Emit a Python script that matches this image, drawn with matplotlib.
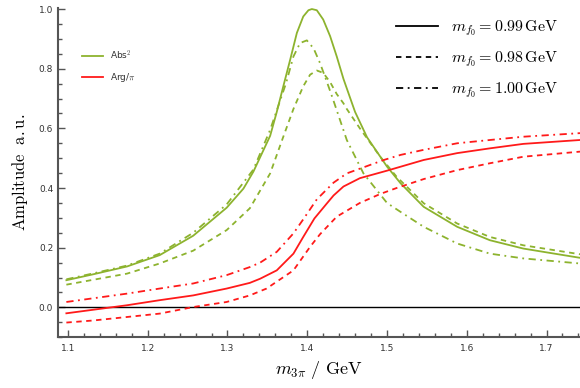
import numpy as np
import matplotlib.pyplot as plt
from matplotlib.lines import Line2D
from matplotlib.ticker import MultipleLocator

plt.rcParams['mathtext.fontset'] = 'cm'

green = '#8db32e'
red = '#ff1a1a'
grey = '#555555'

# |amplitude|^2, m_f0 = 0.99 GeV
m_abs_a = [1.098, 1.132, 1.174, 1.215, 1.257, 1.299, 1.320, 1.3325, 1.3535, 1.3618,
           1.370, 1.3786, 1.387, 1.395, 1.4015, 1.4058, 1.412, 1.420, 1.4287, 1.437,
           1.4454, 1.4538, 1.460, 1.475, 1.500, 1.517, 1.546, 1.588, 1.629, 1.671, 1.742]
abs_a = [0.091, 0.111, 0.137, 0.175, 0.240, 0.334, 0.398, 0.455, 0.575, 0.655,
         0.741, 0.830, 0.920, 0.975, 0.996, 1.000, 0.996, 0.965, 0.909, 0.841,
         0.766, 0.702, 0.655, 0.570, 0.472, 0.416, 0.337, 0.270, 0.225, 0.197, 0.166]

# m_f0 = 0.98 GeV
m_abs_b = [1.098, 1.174, 1.215, 1.257, 1.299, 1.328, 1.3535, 1.370, 1.3827, 1.395,
           1.4036, 1.412, 1.420, 1.4287, 1.437, 1.4454, 1.4496, 1.466, 1.4915, 1.512,
           1.546, 1.588, 1.629, 1.671, 1.742]
abs_b = [0.076, 0.113, 0.147, 0.190, 0.259, 0.332, 0.449, 0.572, 0.665, 0.741,
         0.780, 0.794, 0.786, 0.755, 0.715, 0.684, 0.665, 0.600, 0.505, 0.438,
         0.349, 0.281, 0.236, 0.208, 0.178]

# m_f0 = 1.00 GeV
m_abs_c = [1.098, 1.132, 1.174, 1.215, 1.257, 1.299, 1.3325, 1.3535, 1.3735, 1.3827,
           1.391, 1.3995, 1.408, 1.416, 1.4245, 1.432, 1.4496, 1.4705, 1.500, 1.517,
           1.546, 1.588, 1.629, 1.671, 1.742]
abs_c = [0.094, 0.114, 0.140, 0.180, 0.250, 0.345, 0.462, 0.595, 0.752, 0.841,
         0.886, 0.895, 0.868, 0.819, 0.757, 0.700, 0.561, 0.449, 0.350, 0.320,
         0.270, 0.214, 0.180, 0.164, 0.147]

# phase / pi
m_arg_a = [1.098, 1.174, 1.215, 1.257, 1.299, 1.328, 1.341, 1.3618, 1.3827, 1.395,
           1.409, 1.4245, 1.433, 1.4454, 1.466, 1.4998, 1.546, 1.588, 1.629, 1.671,
           1.742]
arg_a = [-0.020, 0.007, 0.024, 0.040, 0.063, 0.082, 0.096, 0.124, 0.180, 0.236,
         0.298, 0.348, 0.375, 0.405, 0.433, 0.458, 0.494, 0.517, 0.533, 0.548,
         0.561]

m_arg_b = [1.098, 1.132, 1.215, 1.257, 1.299, 1.328, 1.349, 1.3827, 1.4036, 1.416,
           1.437, 1.466, 1.4915, 1.512, 1.546, 1.588, 1.629, 1.671, 1.742]
arg_b = [-0.051, -0.044, -0.021, 0.001, 0.018, 0.040, 0.063, 0.124, 0.203, 0.245,
         0.304, 0.350, 0.380, 0.400, 0.430, 0.460, 0.483, 0.505, 0.522]

m_arg_c = [1.098, 1.174, 1.215, 1.257, 1.299, 1.328, 1.341, 1.3618, 1.3827, 1.395,
           1.412, 1.433, 1.4496, 1.496, 1.517, 1.546, 1.588, 1.629, 1.671, 1.742]
arg_c = [0.018, 0.046, 0.063, 0.080, 0.108, 0.135, 0.150, 0.186, 0.248, 0.295,
         0.362, 0.418, 0.449, 0.494, 0.511, 0.528, 0.550, 0.561, 0.572, 0.584]

legend_masses = ['0.99', '0.98', '1.00']

solid = '-'
dashed = (0, (3, 2.5))
dashdot = (0, (4, 2.5, 1, 2.5))

fig = plt.figure(figsize=(5.8, 3.88), dpi=100)
ax = fig.add_axes([0.1, 0.131, 0.9, 0.848])

ax.axhline(0, color='black', lw=1.0)

ax.plot(m_abs_a, abs_a, color=green, lw=1.3, ls=solid)
ax.plot(m_abs_b, abs_b, color=green, lw=1.3, ls=dashed)
ax.plot(m_abs_c, abs_c, color=green, lw=1.3, ls=dashdot)
ax.plot(m_arg_a, arg_a, color=red, lw=1.3, ls=solid)
ax.plot(m_arg_b, arg_b, color=red, lw=1.3, ls=dashed)
ax.plot(m_arg_c, arg_c, color=red, lw=1.3, ls=dashdot)

ax.set_xlim(1.0875, 1.742)
ax.set_ylim(-0.1, 1.003)

ax.xaxis.set_major_locator(MultipleLocator(0.1))
ax.xaxis.set_minor_locator(MultipleLocator(0.02))
ax.yaxis.set_major_locator(MultipleLocator(0.2))
ax.yaxis.set_minor_locator(MultipleLocator(0.05))
ax.tick_params(which='both', direction='in', color=grey, labelsize=6.5,
               labelcolor='#333333', width=1.0)
ax.tick_params(which='major', length=5)
ax.tick_params(which='minor', length=3)
ax.tick_params(axis='x', pad=5)
for s in ['top', 'right']:
    ax.spines[s].set_visible(False)
for s in ['left', 'bottom']:
    ax.spines[s].set_color(grey)
    ax.spines[s].set_linewidth(1.5)

ax.set_xlabel(r'$m_{3\pi}\ /\ \mathrm{GeV}$', fontsize=13, labelpad=4)
ax.set_ylabel(r'$\mathrm{Amplitude}\ \ \mathrm{a.u.}$', fontsize=12, labelpad=6)

h1 = [Line2D([], [], color=green, lw=1.3), Line2D([], [], color=red, lw=1.3)]
leg1 = ax.legend(h1, ['Abs$^2$', r'Arg/$\pi$'], loc='upper left',
                 bbox_to_anchor=(0.03, 0.9), frameon=False, fontsize=6.5,
                 handlelength=2.3, labelspacing=1.0, labelcolor='#333333')
ax.add_artist(leg1)

h2 = [Line2D([], [], color='black', lw=1.3, ls=s) for s in [solid, dashed, dashdot]]
labels2 = [r'$m_{f_0} = %s\,\mathrm{GeV}$' % m for m in legend_masses]
ax.legend(h2, labels2, loc='upper right', bbox_to_anchor=(0.985, 1.012),
          frameon=False, fontsize=11.5, handlelength=2.6, labelspacing=0.72)

fig.savefig('out.png', dpi=100)
